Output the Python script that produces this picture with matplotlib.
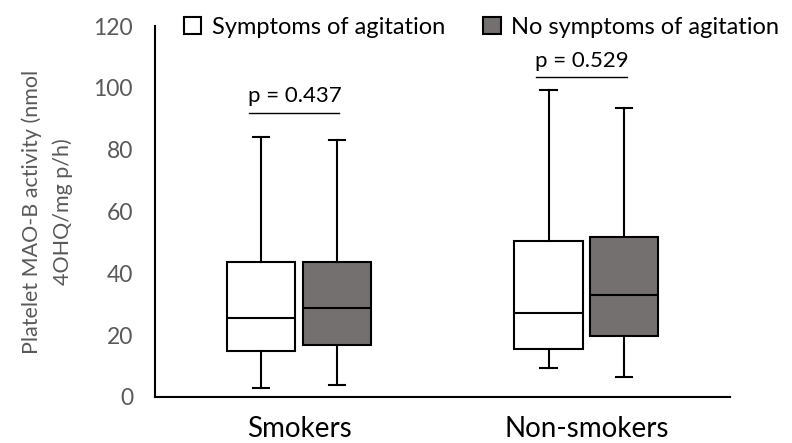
import matplotlib.pyplot as plt
from matplotlib.patches import Patch

# ── Data ──────────────────────────────────────────────────────────────────────
groups      = ['Smokers', 'Non-smokers']
series      = ['Symptoms of agitation', 'No symptoms of agitation']
whislo      = [[2.8, 9.3], [3.7, 6.4]]
q1          = [[14.9, 15.5], [16.8, 19.6]]
med         = [[25.5, 27.3], [28.7, 32.9]]
q3          = [[43.6, 50.6], [43.6, 51.6]]
whishi      = [[84.2, 99.4], [83.0, 93.5]]
p_labels    = ['p = 0.437', 'p = 0.529']
p_line_y    = [92, 103.5]
p_text_y    = [94, 105.5]

FILLS = ['white', '#757070']
GREY  = '#595959'

plt.rcParams['font.family'] = ['Lato', 'DejaVu Sans']

fig = plt.figure(figsize=(7.92, 4.43), dpi=100)
ax = fig.add_axes([0.196, 0.104, 0.726, 0.837])

offset = 0.132
width = 0.237
for s in range(len(series)):
    stats = []
    for g in range(len(groups)):
        stats.append(dict(whislo=whislo[s][g], q1=q1[s][g], med=med[s][g],
                          q3=q3[s][g], whishi=whishi[s][g], fliers=[]))
    pos = [g + 0.5 + (offset if s else -offset) for g in range(len(groups))]
    ax.bxp(stats, positions=pos, widths=width, patch_artist=True,
           showfliers=False, manage_ticks=False,
           boxprops=dict(facecolor=FILLS[s], edgecolor='black', linewidth=1.5),
           medianprops=dict(color='black', linewidth=1.5),
           whiskerprops=dict(color='black', linewidth=1.5),
           capprops=dict(color='black', linewidth=1.5),
           capwidths=0.056)

# p-value brackets
for g in range(len(groups)):
    c = g + 0.5
    ax.plot([c - 0.175, c + 0.14], [p_line_y[g]] * 2, color='black', lw=1)
    ax.text(c - 0.015, p_text_y[g], p_labels[g], ha='center', va='bottom',
            fontsize=16, color='black')

ax.set_xlim(0, 2)
ax.set_ylim(0, 120)
ax.set_yticks(range(0, 121, 20))
ax.tick_params(axis='y', length=0, pad=16, labelsize=16.5, labelcolor=GREY)
ax.set_xticks([0.5, 1.5])
ax.set_xticklabels(groups, fontsize=20)
ax.tick_params(axis='x', length=0, pad=14)
for side in ['top', 'right']:
    ax.spines[side].set_visible(False)
for side in ['left', 'bottom']:
    ax.spines[side].set_linewidth(1.5)
ax.set_ylabel('Platelet MAO-B activity (nmol\n4OHQ/mg p/h)', fontsize=15.5,
              color=GREY, labelpad=15, linespacing=1.6,
              multialignment='center')

handles = [Patch(facecolor=f, edgecolor='black', linewidth=1.5) for f in FILLS]
fig.legend(handles, series, loc='upper left', bbox_to_anchor=(0.208, 1.005),
           ncol=2, frameon=False, fontsize=17, handlelength=0.75,
           handleheight=0.75, handletextpad=0.45, columnspacing=1.6,
           borderpad=0.3)

fig.savefig('out.png', dpi=100)
